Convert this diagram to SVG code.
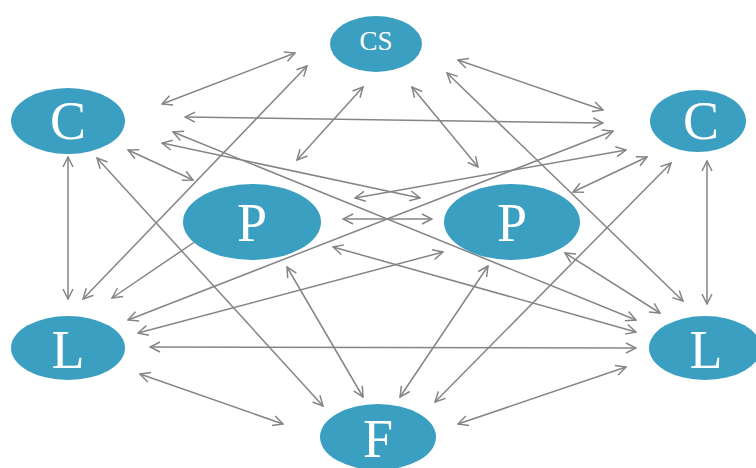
<svg xmlns="http://www.w3.org/2000/svg" width="756" height="468" viewBox="0 0 756 468">
<style>
.node{fill:#3a9fc0;}
.lbl{fill:#ffffff;font-family:"Liberation Serif","DejaVu Serif",serif;text-anchor:middle;}
.big{font-size:54px;}
.small{font-size:27px;}
.c line{stroke:#858585;stroke-width:1.5;fill:none;marker-end:url(#ah);}
.c line.d{marker-start:url(#ah);}
</style>
<defs>
<marker id="ah" viewBox="0 0 12 12" refX="11" refY="6" markerWidth="12" markerHeight="12" markerUnits="userSpaceOnUse" orient="auto-start-reverse">
<path d="M1,1 L11,6 L1,11" fill="none" stroke="#858585" stroke-width="1.5"/>
</marker>
</defs>
<rect width="756" height="468" fill="#ffffff"/>
<g class="c" id="connectors">
<line class="d" x1="162" y1="104" x2="295" y2="53"/>
<line class="d" x1="307" y1="66" x2="83" y2="299"/>
<line class="d" x1="363" y1="87" x2="297" y2="160"/>
<line class="d" x1="412" y1="87" x2="478" y2="167"/>
<line class="d" x1="447" y1="73" x2="683" y2="301"/>
<line class="d" x1="458" y1="60" x2="603" y2="110"/>
<line class="d" x1="185" y1="117" x2="603" y2="123"/>
<line class="d" x1="173" y1="132" x2="636" y2="320"/>
<line class="d" x1="162" y1="143" x2="420" y2="198"/>
<line class="d" x1="128" y1="150" x2="193" y2="180"/>
<line class="d" x1="97" y1="158" x2="323" y2="406"/>
<line class="d" x1="68" y1="157" x2="68" y2="299"/>
<line class="d" x1="613" y1="131" x2="128" y2="320"/>
<line class="d" x1="626" y1="150" x2="355" y2="198"/>
<line class="d" x1="647" y1="157" x2="573" y2="192"/>
<line class="d" x1="671" y1="163" x2="435" y2="402"/>
<line class="d" x1="707" y1="161" x2="707" y2="304"/>
<line class="d" x1="343" y1="219" x2="432" y2="219"/>
<line x1="196" y1="241" x2="112" y2="298"/>
<line class="d" x1="565" y1="253" x2="660" y2="313"/>
<line class="d" x1="333" y1="247" x2="636" y2="332"/>
<line class="d" x1="443" y1="252" x2="138" y2="333"/>
<line class="d" x1="150" y1="347" x2="636" y2="348"/>
<line class="d" x1="287" y1="267" x2="363" y2="397"/>
<line class="d" x1="488" y1="266" x2="400" y2="397"/>
<line class="d" x1="140" y1="374" x2="283" y2="424"/>
<line class="d" x1="458" y1="424" x2="626" y2="367"/>
</g>
<g id="cs"><ellipse class="node" cx="376" cy="44" rx="46" ry="28"/><text class="lbl small" x="376" y="50">CS</text></g>
<g id="c-left"><ellipse class="node" cx="68" cy="121" rx="57" ry="33"/><text class="lbl big" x="68" y="139">C</text></g>
<g id="c-right"><ellipse class="node" cx="698" cy="121" rx="48" ry="31"/><text class="lbl big" x="701" y="139">C</text></g>
<g id="p-left"><ellipse class="node" cx="252" cy="222" rx="69" ry="38"/><text class="lbl big" x="252" y="241">P</text></g>
<g id="p-right"><ellipse class="node" cx="512" cy="222" rx="68" ry="38"/><text class="lbl big" x="512" y="241">P</text></g>
<g id="l-left"><ellipse class="node" cx="68" cy="348" rx="57" ry="32"/><text class="lbl big" x="68" y="368">L</text></g>
<g id="l-right"><ellipse class="node" cx="705" cy="348" rx="56" ry="32"/><text class="lbl big" x="706" y="368">L</text></g>
<g id="f"><ellipse class="node" cx="378" cy="437" rx="58" ry="33"/><text class="lbl big" x="378" y="457">F</text></g>
</svg>
